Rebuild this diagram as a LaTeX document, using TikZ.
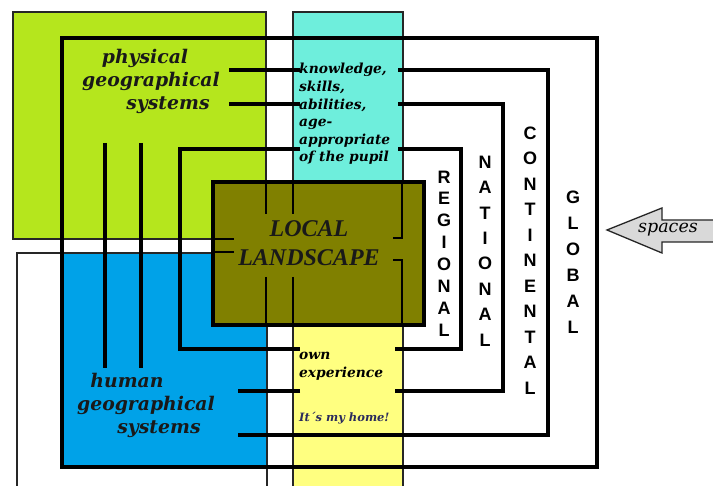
\documentclass[tikz,border=0pt]{standalone}
\usepackage{fontspec}
\usepackage{tikz}
\usetikzlibrary{positioning}
\newfontfamily\bookit{DejaVu Serif}
\newfontfamily\timesit{Liberation Serif}
\newfontfamily\arialbf{Liberation Sans}
\definecolor{physgreen}{HTML}{B5E61D}
\definecolor{knowcyan}{HTML}{6EEEDC}
\definecolor{humblue}{HTML}{00A2E8}
\definecolor{ownyellow}{HTML}{FFFF80}
\definecolor{localolive}{HTML}{808000}
\definecolor{homenavy}{HTML}{2A2A5C}

\begin{document}
\begin{tikzpicture}[x=1pt,y=-1pt,
  box/.style={draw=black!85,line width=2.4pt},
  ring/.style={black,line width=4pt},
  tick/.style={black,line width=2.4pt},
  sys/.style={inner sep=0pt,align=center,text=black!90,font=\bookit\bfseries\itshape\fontsize{18.8}{23}\selectfont},
  note/.style={inner sep=0pt,align=left,anchor=west,font=\bookit\bfseries\itshape\fontsize{13.8}{17.6}\selectfont},
  lvl/.style={inner sep=0pt,align=center,font=\arialbf\bfseries\fontsize{18}{#1}\selectfont}]
\useasboundingbox (0,0) rectangle (713,486);
\clip (0,0) rectangle (713,486);
\fill[white] (0,0) rectangle (713,486);
% the four quarters
\filldraw[box,fill=physgreen] (13,12) rectangle (266,239);
\filldraw[box,fill=knowcyan] (293,12) rectangle (403,260);
\fill[white] (17,253) rectangle (267,500);
\fill[humblue] (62,253) rectangle (267,467);
\draw[box] (17,253) rectangle (267,500);
\filldraw[box,fill=ownyellow] (293,260) rectangle (403,500);
% spaces: global, continental, national, regional
\draw[ring] (62,38) rectangle (597,467);
\draw[ring] (229,70) -- (300,70) (398,70) -- (548,70) -- (548,435) -- (238,435);
\draw[ring] (229,104) -- (300,104) (398,104) -- (503,104) -- (503,391) -- (395,391)
  (300,391) -- (238,391);
\draw[ring] (300,149) -- (180,149) -- (180,349) -- (300,349)
  (395,349) -- (461,349) -- (461,149) -- (398,149);
\draw[ring] (105,143) -- (105,368) (141,143) -- (141,368);
% local landscape
\filldraw[ring,fill=localolive] (213,182) rectangle (424,325);
\draw[tick] (266,182) -- (266,214) (293,182) -- (293,214);
\draw[tick] (402,182) -- (402,238) -- (393,238);
\draw[tick] (213,239) -- (234,239) (213,252) -- (234,252);
\draw[tick] (393,260) -- (402,260) -- (402,325);
\draw[tick] (266,277) -- (266,325) (293,277) -- (293,325);
% texts
\node[sys] (phys) at (151,81) {physical\hspace*{12pt}\\geographical\\\hspace*{34pt}systems};
\node[sys] (human) at (146,405) {human\hspace*{38pt}\\geographical\\\hspace*{26pt}systems};
\node[note] (know) at (299,114) {knowledge,\\skills,\\abilities,\\age-\\appropriate\\of the pupil};
\node[note] (own) at (299,366) {own\\experience};
\node[note,text=homenavy,font=\bookit\bfseries\itshape\fontsize{11.5}{13}\selectfont] (home) at (299,418) {It´s my home!};
\node[inner sep=0pt,align=center,text=black!90,font=\timesit\bfseries\itshape\fontsize{24}{29}\selectfont] (local) at (309,243) {LOCAL\\LANDSCAPE};
\node[lvl=21.9] (regional) at (444,253.5) {R\\E\\G\\I\\O\\N\\A\\L};
\node[lvl=25.4] (national) at (485,251) {N\\A\\T\\I\\O\\N\\A\\L};
\node[lvl=25.5] (continental) at (530,260.5) {C\\O\\N\\T\\I\\N\\E\\N\\T\\A\\L};
\node[lvl=26] (global) at (573,262) {G\\L\\O\\B\\A\\L};
% arrow
\filldraw[draw=black!85,fill=black!15,line width=1.3pt] (607,230) -- (662,208) -- (662,220) -- (722,220)
  -- (722,242) -- (662,242) -- (662,253) -- cycle;
\node[inner sep=0pt,font=\bookit\itshape\fontsize{17.5}{20}\selectfont] (spaces) at (668,230) {spaces};
\end{tikzpicture}
\end{document}
